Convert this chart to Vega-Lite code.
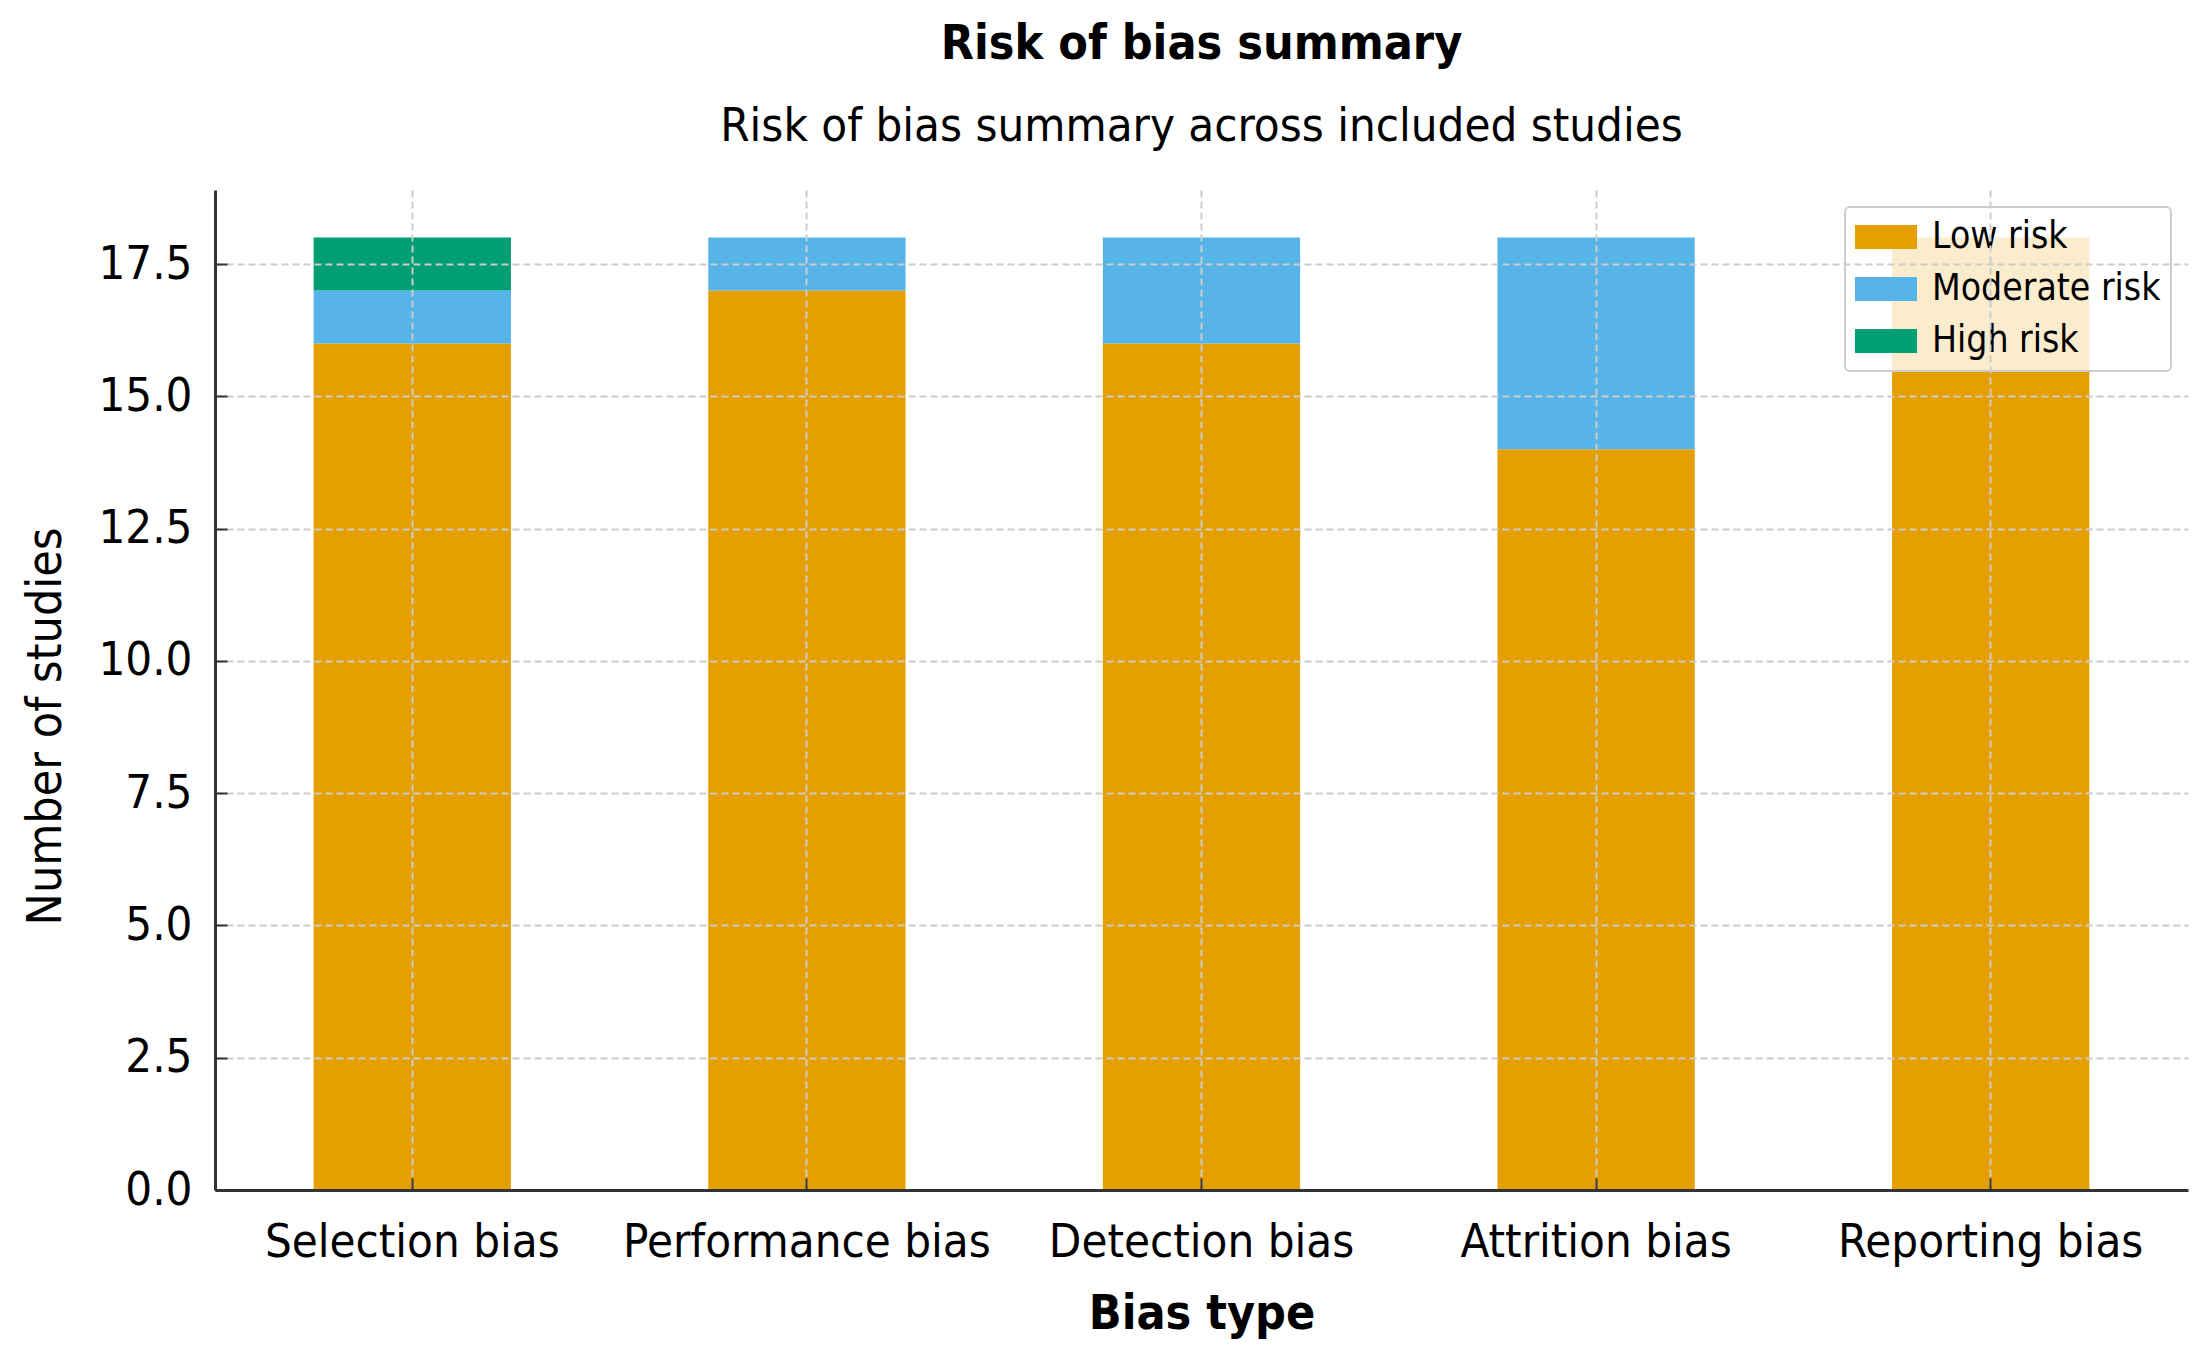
{
  "$schema": "https://vega.github.io/schema/vega-lite/v6.json",
  "width": 1973,
  "height": 1000,
  "autosize": {"type": "none"},
  "padding": {"left": 215, "top": 190, "right": 19, "bottom": 170},
  "background": "white",
  "title": {
    "text": "Risk of bias summary",
    "subtitle": "Risk of bias summary across included studies",
    "anchor": "middle",
    "frame": "group",
    "font": "DejaVu Sans Condensed, Liberation Sans Narrow, DejaVu Sans",
    "fontSize": 48,
    "fontWeight": "bold",
    "color": "black",
    "subtitleFont": "DejaVu Sans Condensed, Liberation Sans Narrow, DejaVu Sans",
    "subtitleFontSize": 47,
    "subtitleColor": "black",
    "subtitlePadding": 35,
    "offset": 40
  },
  "data": {
    "values": [
      {"bias": "Selection bias", "risk": "Low risk", "k": 1, "count": 16},
      {"bias": "Selection bias", "risk": "Moderate risk", "k": 2, "count": 1},
      {"bias": "Selection bias", "risk": "High risk", "k": 3, "count": 1},
      {"bias": "Performance bias", "risk": "Low risk", "k": 1, "count": 17},
      {"bias": "Performance bias", "risk": "Moderate risk", "k": 2, "count": 1},
      {"bias": "Detection bias", "risk": "Low risk", "k": 1, "count": 16},
      {"bias": "Detection bias", "risk": "Moderate risk", "k": 2, "count": 2},
      {"bias": "Attrition bias", "risk": "Low risk", "k": 1, "count": 14},
      {"bias": "Attrition bias", "risk": "Moderate risk", "k": 2, "count": 4},
      {"bias": "Reporting bias", "risk": "Low risk", "k": 1, "count": 18}
    ]
  },
  "mark": {"type": "bar"},
  "encoding": {
    "x": {
      "field": "bias",
      "type": "nominal",
      "sort": ["Selection bias", "Performance bias", "Detection bias", "Attrition bias", "Reporting bias"],
      "scale": {"paddingInner": 0.5, "paddingOuter": 0.25},
      "axis": {
        "title": "Bias type",
        "titleFont": "DejaVu Sans Condensed, Liberation Sans Narrow, DejaVu Sans",
        "titleFontSize": 48,
        "titleFontWeight": "bold",
        "titleColor": "black",
        "titleBaseline": "alphabetic",
        "titleY": 138,
        "labelAngle": 0,
        "labelLimit": 0,
        "labelFont": "DejaVu Sans Condensed, Liberation Sans Narrow, DejaVu Sans",
        "labelFontSize": 47,
        "labelColor": "black",
        "labelPadding": 41,
        "tickSize": -12,
        "tickColor": "#333333",
        "tickWidth": 2,
        "domainColor": "#333333",
        "domainWidth": 3,
        "grid": true,
        "gridColor": "#cccccc",
        "gridDash": [7, 4],
        "gridWidth": 2,
        "bandPosition": 0.5,
        "zindex": 1
      }
    },
    "y": {
      "field": "count",
      "type": "quantitative",
      "stack": "zero",
      "scale": {"domain": [0, 18.9], "nice": false},
      "axis": {
        "title": "Number of studies",
        "titleFont": "DejaVu Sans Condensed, Liberation Sans Narrow, DejaVu Sans",
        "titleFontSize": 48,
        "titleFontWeight": "normal",
        "titleColor": "black",
        "titleAlign": "center",
        "titleBaseline": "alphabetic",
        "titleX": -155,
        "titleY": 536,
        "values": [0, 2.5, 5, 7.5, 10, 12.5, 15, 17.5],
        "format": ".1f",
        "labelFont": "DejaVu Sans Condensed, Liberation Sans Narrow, DejaVu Sans",
        "labelFontSize": 47,
        "labelColor": "black",
        "labelPadding": 35,
        "tickSize": -12,
        "tickColor": "#333333",
        "tickWidth": 2,
        "domainColor": "#333333",
        "domainWidth": 3,
        "grid": true,
        "gridColor": "#cccccc",
        "gridDash": [7, 4],
        "gridWidth": 2,
        "zindex": 1
      }
    },
    "color": {
      "field": "risk",
      "type": "nominal",
      "scale": {
        "domain": ["Low risk", "Moderate risk", "High risk"],
        "range": ["#E69F00", "#56B4E9", "#009E73"]
      },
      "legend": {
        "title": null,
        "orient": "top-right",
        "offset": 17,
        "padding": 10,
        "fillColor": "rgba(255,255,255,0.8)",
        "strokeColor": "#cccccc",
        "cornerRadius": 5,
        "symbolType": "M-1,-0.39L1,-0.39L1,0.39L-1,0.39Z",
        "symbolSize": 3844,
        "symbolStrokeWidth": 0,
        "symbolOpacity": 1,
        "labelFont": "DejaVu Sans Condensed, Liberation Sans Narrow, DejaVu Sans",
        "labelFontSize": 37,
        "labelColor": "black",
        "labelLimit": 0,
        "labelOffset": 15,
        "rowPadding": 12,
        "clipHeight": 40,
        "encode": {"legend": {"update": {"strokeWidth": {"value": 2}}}}
      }
    },
    "order": {"field": "k", "type": "quantitative"}
  },
  "config": {"view": {"stroke": null}}
}
